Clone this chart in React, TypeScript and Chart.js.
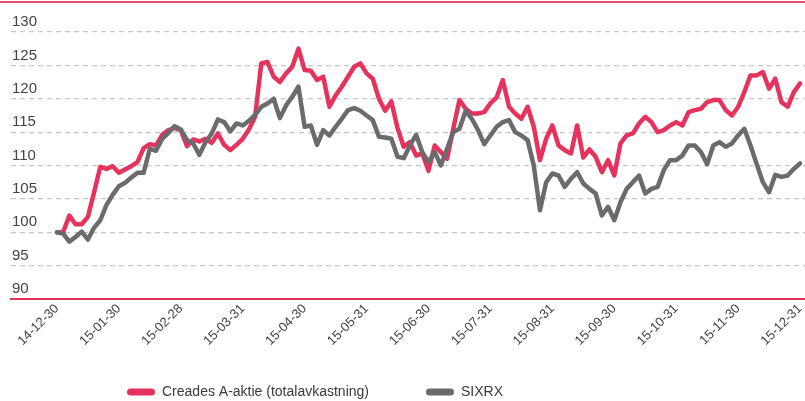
import React, { useEffect, useRef } from 'react';
import { Chart, registerables } from 'chart.js';

Chart.register(...registerables);

// Month-end tick labels (one per month)
const xLabels = [
  '14-12-30', '15-01-30', '15-02-28', '15-03-31', '15-04-30', '15-05-31', '15-06-30',
  '15-07-31', '15-08-31', '15-09-30', '15-10-31', '15-11-30', '15-12-31',
];

// Readings taken ten times per month
const samplesPerMonth = 10;

const creades = [
  100.0, 100.0, 102.5, 101.2, 101.2, 102.3, 106.0, 109.8, 109.5, 109.9,
  108.9, 109.4, 109.9, 110.5, 112.6, 113.2, 113.0, 114.6, 115.3, 115.6,
  115.3, 112.9, 113.9, 113.6, 114.0, 113.4, 114.8, 113.1, 112.3, 113.1,
  114.0, 115.4, 117.3, 125.3, 125.5, 123.3, 122.5, 123.8, 124.8, 127.5,
  124.3, 124.2, 122.8, 123.3, 118.8, 120.5, 121.8, 123.3, 124.8, 125.3,
  123.8, 123.0, 120.0, 118.2, 119.6, 115.6, 112.8, 113.5, 111.5, 111.8,
  109.2, 113.0, 112.0, 111.0, 115.5, 119.8, 118.5, 117.8, 117.8, 118.0,
  119.3, 120.2, 122.8, 118.8, 117.8, 117.0, 118.8, 115.8, 110.8, 114.0,
  116.0, 113.0, 112.3, 111.8, 116.0, 111.2, 112.4, 111.3, 109.0, 110.8,
  108.5, 113.3, 114.5, 114.8, 116.3, 117.3, 116.5, 115.0, 115.3, 116.0,
  116.5, 116.0, 118.0, 118.3, 118.5, 119.5, 119.8, 119.8, 118.3, 117.5,
  118.8, 121.0, 123.5, 123.5, 124.0, 121.5, 123.0, 119.5, 118.8, 121.0,
  122.3,
];

const sixrx = [
  100.0, 99.8, 98.6, 99.3, 100.1, 98.9, 100.7, 101.8, 104.1, 105.6,
  106.9, 107.4, 108.2, 108.9, 108.9, 112.5, 112.2, 114.0, 114.9, 115.9,
  115.4, 113.8, 113.3, 111.6, 113.5, 114.8, 116.9, 116.5, 115.1, 116.3,
  116.0, 116.7, 117.6, 118.8, 119.3, 120.0, 117.1, 119.0, 120.3, 121.8,
  115.8, 116.0, 113.1, 115.3, 114.5, 115.8, 117.0, 118.3, 118.6, 118.2,
  117.5, 116.8, 114.3, 114.2, 114.0, 111.3, 111.1, 113.0, 114.6, 112.0,
  110.5, 112.0, 110.0, 112.5, 115.0, 115.5, 118.2, 117.0, 115.3, 113.2,
  114.5, 115.8, 116.5, 116.8, 115.0, 114.5, 113.8, 110.0, 103.3, 107.5,
  108.8, 108.5, 106.8, 108.0, 109.0, 107.3, 106.5, 105.8, 102.5, 103.8,
  101.8, 104.5, 106.5, 107.5, 108.5, 105.8, 106.5, 106.8, 109.3, 110.8,
  110.8, 111.5, 113.0, 113.0, 112.0, 110.2, 113.0, 113.5, 112.8, 113.3,
  114.5, 115.5, 113.0, 110.2, 107.5, 106.0, 108.6, 108.3, 108.5, 109.5,
  110.3,
];

const seriesNames = ['Creades A-aktie (totalavkastning)', 'SIXRX'];

const RED = '#e5335e';
const GRAY = '#6b6b6b';
const FONT = '"Liberation Sans", Arial, Helvetica, sans-serif';

const toPoints = (vals: number[]) => vals.map((v, i) => ({ x: i / samplesPerMonth, y: v }));

const topRule = {
  id: 'topRule',
  beforeDraw(chart: any) {
    const ctx = chart.ctx;
    ctx.save();
    ctx.fillStyle = '#e94a70';
    ctx.fillRect(0, 1, chart.width, 2);
    ctx.restore();
  },
};

const bottomLegend = {
  id: 'bottomLegend',
  afterDraw(chart: any) {
    const ctx = chart.ctx;
    ctx.save();
    ctx.font = `14px ${FONT}`;
    ctx.textBaseline = 'middle';
    ctx.textAlign = 'left';
    let x = 127;
    const y = 392;
    chart.data.datasets.forEach((ds: any) => {
      ctx.fillStyle = ds.borderColor;
      ctx.beginPath();
      if (ctx.roundRect) ctx.roundRect(x, y - 3.5, 28, 7, 3.5);
      else ctx.rect(x, y - 3.5, 28, 7);
      ctx.fill();
      ctx.fillStyle = '#3a3a3a';
      ctx.fillText(ds.label, x + 35, y);
      x += 35 + ctx.measureText(ds.label).width + 57;
    });
    ctx.restore();
  },
};

export default function App() {
  const ref = useRef<HTMLCanvasElement>(null);

  useEffect(() => {
    document.body.style.margin = '0';
    if (!ref.current) return;
    const chart = new Chart(ref.current, {
      type: 'line',
      data: {
        datasets: [
          {
            label: seriesNames[0],
            data: toPoints(creades),
            borderColor: RED,
            backgroundColor: RED,
            borderWidth: 4.5,
            pointRadius: 0,
            tension: 0,
            borderJoinStyle: 'round',
            borderCapStyle: 'round',
            order: 2,
          },
          {
            label: seriesNames[1],
            data: toPoints(sixrx),
            borderColor: GRAY,
            backgroundColor: GRAY,
            borderWidth: 4.5,
            pointRadius: 0,
            tension: 0,
            borderJoinStyle: 'round',
            borderCapStyle: 'round',
            order: 1,
          },
        ],
      },
      options: {
        responsive: false,
        animation: false,
        layout: { padding: { top: 32, left: 9, right: 0, bottom: 52 } },
        plugins: {
          legend: { display: false },
          tooltip: { enabled: false },
        },
        scales: {
          x: {
            type: 'linear',
            min: -0.742,
            max: 12.08,
            grid: { display: false, drawTicks: false },
            border: { display: true, color: '#e5335e', width: 2 },
            ticks: {
              stepSize: 1,
              includeBounds: false,
              autoSkip: false,
              maxRotation: 45,
              minRotation: 45,
              padding: 2,
              color: '#444',
              font: { family: FONT, size: 13 },
              callback: (v: any) => xLabels[v] ?? '',
            },
            afterFit: (scale: any) => {
              scale.height = 50;
              scale.paddingRight = 0;
              scale.paddingLeft = 0;
            },
          },
          y: {
            min: 90,
            max: 130,
            grid: { color: '#c6c6c6', lineWidth: 1.2, drawTicks: false },
            border: { display: false, dash: [5, 4] },
            ticks: {
              stepSize: 5,
              mirror: true,
              padding: 1,
              labelOffset: -10,
              color: '#444',
              font: { family: FONT, size: 15 },
            },
          },
        },
      },
      plugins: [topRule, bottomLegend],
    });
    return () => chart.destroy();
  }, []);

  return (
    <div style={{ width: 805, height: 401 }}>
      <canvas ref={ref} width={805} height={401} style={{ display: 'block' }} />
    </div>
  );
}
